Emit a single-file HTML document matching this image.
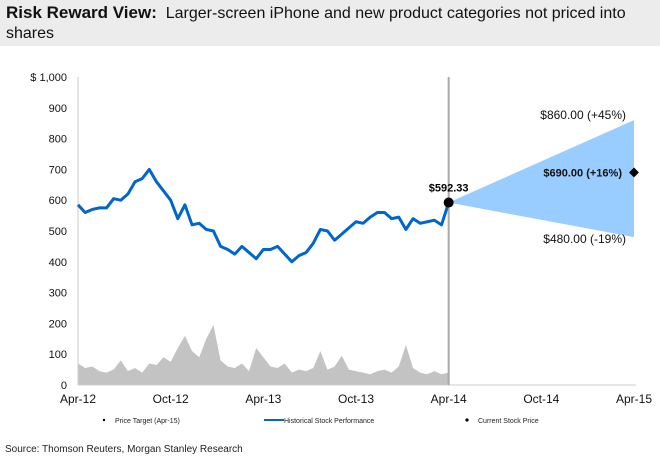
<!DOCTYPE html>
<html><head><meta charset="utf-8"><style>
body{margin:0;background:#fff;font-family:"Liberation Sans",sans-serif;}
#wrap{position:relative;width:660px;height:465px;overflow:hidden;}
#title{position:absolute;left:0;top:0;width:660px;height:46px;background:#ececec;}
#title div{position:absolute;left:6px;top:3px;font-size:16px;line-height:20px;color:#111;width:650px;}
#src{position:absolute;left:5px;top:444px;font-size:10px;color:#222;}
</style></head><body>
<div id="wrap">
<div id="title"><div><b style="font-size:17px">Risk Reward View:</b>&nbsp; Larger-screen iPhone and new product categories not priced into shares</div></div>
<svg id="chart" width="660" height="465" style="position:absolute;left:0;top:0"></svg>
<div id="src">Source: Thomson Reuters, Morgan Stanley Research</div>
</div>
<script>
const xTickLabels=["Apr-12","Oct-12","Apr-13","Oct-13","Apr-14","Oct-14","Apr-15"];
const yTickLabels=["0","100","200","300","400","500","600","700","800","900","$  1,000"];
const yTickValues=[0,100,200,300,400,500,600,700,800,900,1000];
const priceValues=[585,560,570,575,575,605,600,620,660,670,700,660,630,600,540,585,520,525,505,500,450,440,425,450,430,410,440,440,450,425,400,420,430,460,505,500,470,490,510,530,525,545,560,560,540,545,505,540,525,530,535,520,592.33];
const volumeValues=[70,55,60,45,40,50,80,45,55,40,70,65,90,75,120,160,110,90,150,195,80,60,55,70,45,120,90,60,55,70,40,50,45,55,110,50,60,95,50,45,40,35,45,50,40,60,130,55,40,35,45,35,40];
const currentPrice=592.33, targetHigh=860, targetBase=690, targetLow=480;
const targetLabels=["$860.00 (+45%)","$690.00 (+16%)","$480.00 (-19%)","$592.33"];
const NS="http://www.w3.org/2000/svg";
const svg=document.getElementById('chart');
const x0=78,x1=634,y0=385,y1=77;
function xm(m){return x0+(x1-x0)*m/36;} // months since Apr-12
function yv(v){return y0-(y0-y1)*v/1000;}
function mk(t,a){const e=document.createElementNS(NS,t);for(const k in a)e.setAttribute(k,a[k]);svg.appendChild(e);return e;}
const n=priceValues.length;
function xi(i){return xm(24*i/(n-1));}
// volume
let vd="M"+xi(0)+","+y0;
volumeValues.forEach((v,i)=>{vd+=" L"+xi(i)+","+yv(v);});
vd+=" L"+xi(n-1)+","+y0+" Z";
const vol=mk('path',{d:vd,fill:'#c3c3c3'});


// axes
const ya=mk('line',{x1:x0,y1:y1,x2:x0,y2:y0,stroke:'#ccc','stroke-width':1});


const xa=mk('line',{x1:x0,y1:y0,x2:x1+2,y2:y0,stroke:'#ccc','stroke-width':1});


const vl=mk('line',{x1:xm(24),y1:y1,x2:xm(24),y2:y0,stroke:'#aaa','stroke-width':2});


yTickValues.forEach((v,i)=>{const t=mk('text',{x:67,y:yv(v)+4,'text-anchor':'end','font-size':11,fill:'#111'});t.textContent=yTickLabels[i];

});
xTickLabels.forEach((l,i)=>{const t=mk('text',{x:xm(i*6),y:403,'text-anchor':'middle','font-size':12,fill:'#111'});t.textContent=l;

});
// cone
const cx=xi(n-1);
const cone=mk('polygon',{points:`${cx},${yv(currentPrice)} ${xm(36)},${yv(targetHigh)} ${xm(36)},${yv(targetLow)}`,fill:'#99ccff'});


// price line
let pd="";priceValues.forEach((v,i)=>{pd+=(i?" L":"M")+xi(i)+","+yv(v);});
const pl=mk('path',{d:pd,fill:'none',stroke:'#0066cc','stroke-width':3,'stroke-linejoin':'round'});


const dot=mk('circle',{cx:cx,cy:yv(currentPrice),r:5,fill:'#000'});


const cl=mk('text',{x:cx,y:yv(currentPrice)-11,'text-anchor':'middle','font-size':11,'font-weight':'bold',fill:'#000'});cl.textContent=targetLabels[3];


const dm=mk('rect',{x:xm(36)-3.5,y:yv(targetBase)-3.5,width:7,height:7,fill:'#000',transform:`rotate(45 ${xm(36)} ${yv(targetBase)})`});


const th=mk('text',{x:xm(36)-8,y:yv(targetHigh)-1,'text-anchor':'end','font-size':12,fill:'#111'});th.textContent=targetLabels[0];


const tb=mk('text',{x:xm(36)-12,y:yv(targetBase)+4,'text-anchor':'end','font-size':11,'font-weight':'bold',fill:'#111'});tb.textContent=targetLabels[1];


const tl=mk('text',{x:xm(36)-8,y:yv(targetLow)+6,'text-anchor':'end','font-size':12,fill:'#111'});tl.textContent=targetLabels[2];


// legend
const l1=mk('circle',{cx:104,cy:420,r:1.2,fill:'#000'});


const lt1=mk('text',{x:115,y:423,'font-size':7,fill:'#222'});lt1.textContent="Price Target (Apr-15)";


const l2=mk('line',{x1:264,y1:420,x2:284,y2:420,stroke:'#0066cc','stroke-width':2});


const lt2=mk('text',{x:284,y:423,'font-size':7,fill:'#222'});lt2.textContent="Historical Stock Performance";


const l3=mk('circle',{cx:467,cy:420,r:1.6,fill:'#000'});


const lt3=mk('text',{x:478,y:423,'font-size':7,fill:'#222'});lt3.textContent="Current Stock Price";


</script>
</body></html>
